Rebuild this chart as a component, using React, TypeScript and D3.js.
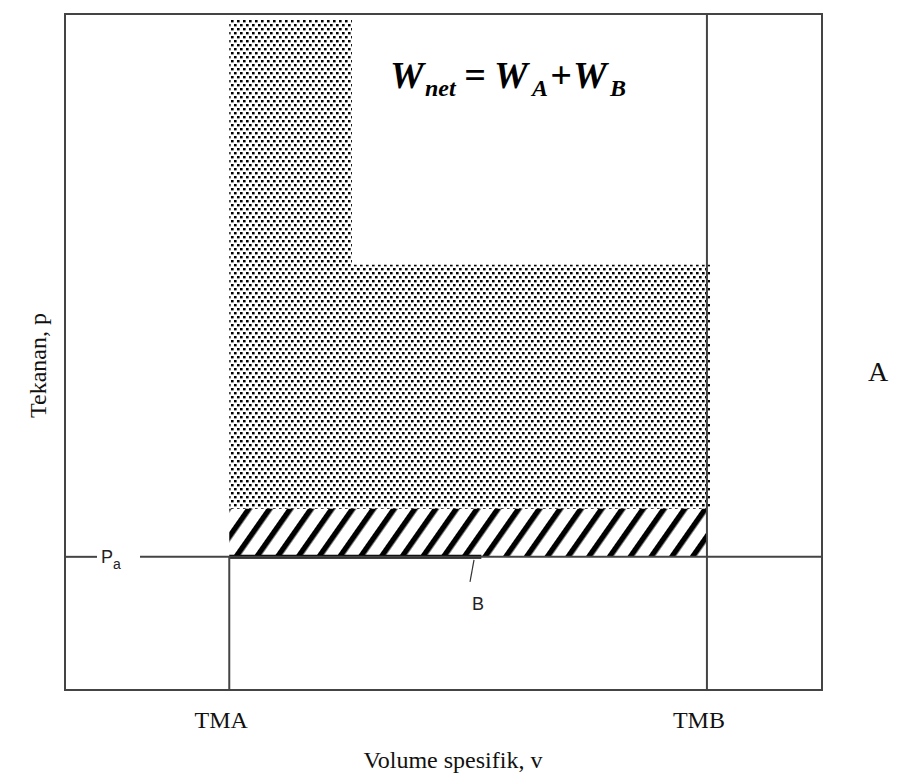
import React from "react";
import * as d3 from "d3";

// Axis domain (arbitrary units for specific volume v and pressure p)
const vDomain = [0, 100];
const pDomain = [0, 100];

// Key volumes
const strokeMarks = ["TMA", "TMB"];
const strokeVolumes = [21.7, 84.8];

// Ambient pressure
const pAmbient = 19.7;

// Work region A (dotted, L-shaped): polygon in (v, p)
const regionAv = [21.7, 37.9, 37.9, 85.2, 85.2, 21.7];
const regionAp = [99.1, 99.1, 62.9, 62.9, 26.8, 26.8];

// Work region B (hatched): polygon in (v, p)
const regionBv = [21.7, 84.8, 84.8, 21.7];
const regionBp = [26.8, 26.8, 19.7, 19.7];

const W = 911;
const H = 778;

export default function App() {
  const x = d3.scaleLinear().domain(vDomain).range([65, 822]);
  const y = d3.scaleLinear().domain(pDomain).range([690, 14]);

  const line = d3.line<[number, number]>().x((d) => x(d[0])).y((d) => y(d[1]));
  const polyA = regionAv.map((v, i) => [v, regionAp[i]] as [number, number]);
  const polyB = regionBv.map((v, i) => [v, regionBp[i]] as [number, number]);

  const xA = x(strokeVolumes[0]);
  const xB = x(strokeVolumes[1]);
  const yPa = y(pAmbient);
  const yTop = y(pDomain[1]);
  const yBot = y(pDomain[0]);
  const xL = x(vDomain[0]);
  const xR = x(vDomain[1]);

  const frame = "#444";
  const serif = "'Liberation Serif', 'Times New Roman', serif";

  return (
    <svg width={W} height={H} style={{ position: "absolute", left: 0, top: 0, background: "#fff" }}>
      <defs>
        <pattern id="dots" width="6" height="8" patternUnits="userSpaceOnUse">
          <rect x="0" y="0" width="2.6" height="2.4" fill="#000" />
          <rect x="3" y="4" width="2.6" height="2.4" fill="#000" />
        </pattern>
        <pattern
          id="hatch"
          width="17"
          height="20"
          patternUnits="userSpaceOnUse"
          patternTransform="rotate(35)"
        >
          <rect x="0" y="0" width="5.5" height="20" fill="#000" />
        </pattern>
      </defs>
      <rect x={0} y={0} width={W} height={H} fill="#fff" />

      {/* regions */}
      <path d={line(polyA)! + "Z"} fill="url(#dots)" />
      <path d={line(polyB)! + "Z"} fill="url(#hatch)" />
      {/* thick base of region B */}
      <line x1={xA} x2={x(55)} y1={yPa} y2={yPa} stroke="#000" strokeWidth={4} />

      {/* frame */}
      <rect x={xL} y={yTop} width={xR - xL} height={yBot - yTop} fill="none" stroke={frame} strokeWidth={2} />
      {/* TMB line */}
      <line x1={xB} x2={xB} y1={yTop} y2={yBot} stroke={frame} strokeWidth={2} />
      {/* TMA line (below Pa) */}
      <line x1={xA} x2={xA} y1={yPa} y2={yBot} stroke={frame} strokeWidth={2} />
      {/* Pa line */}
      <line x1={xL} x2={97} y1={yPa} y2={yPa} stroke={frame} strokeWidth={2} />
      <line x1={140} x2={xR} y1={yPa} y2={yPa} stroke={frame} strokeWidth={2} />
      <text x={101} y={yPa + 6} fontFamily="'Liberation Sans', Arial, sans-serif" fontSize={18} fill="#222">
        P
        <tspan fontSize={14} dy={6}>a</tspan>
      </text>

      {/* B label */}
      <line x1={474} x2={470} y1={yPa + 3} y2={yPa + 25} stroke="#333" strokeWidth={1.2} />
      <text x={478} y={610} textAnchor="middle" fontFamily="'Liberation Sans', Arial, sans-serif" fontSize={18} fill="#222">
        B
      </text>

      {/* formula */}
      <g fontFamily={serif} fontStyle="italic" fontWeight="bold" fill="#000">
        <text x={390} y={88} fontSize={38}>W</text>
        <text x={425} y={96} fontSize={24}>net</text>
        <text x={464} y={88} fontSize={38}>=</text>
        <text x={494} y={88} fontSize={38}>W</text>
        <text x={532} y={96} fontSize={24}>A</text>
        <text x={550} y={88} fontSize={38}>+</text>
        <text x={573} y={88} fontSize={38}>W</text>
        <text x={610} y={96} fontSize={24}>B</text>
      </g>

      {/* stroke labels */}
      {strokeMarks.map((m, i) => (
        <text
          key={m}
          x={x(strokeVolumes[i]) - 8}
          y={728}
          textAnchor="middle"
          fontFamily={serif}
          fontSize={24}
          fill="#111"
        >
          {m}
        </text>
      ))}

      {/* axis titles */}
      <text x={453} y={768} textAnchor="middle" fontFamily={serif} fontSize={24} fill="#111">
        Volume spesifik, v
      </text>
      <text
        transform={`translate(46, ${y(48)}) rotate(-90)`}
        textAnchor="middle"
        fontFamily={serif}
        fontSize={24}
        fill="#111"
      >
        Tekanan, p
      </text>
      <text x={878} y={381} textAnchor="middle" fontFamily={serif} fontSize={28} fill="#111">
        A
      </text>
    </svg>
  );
}
